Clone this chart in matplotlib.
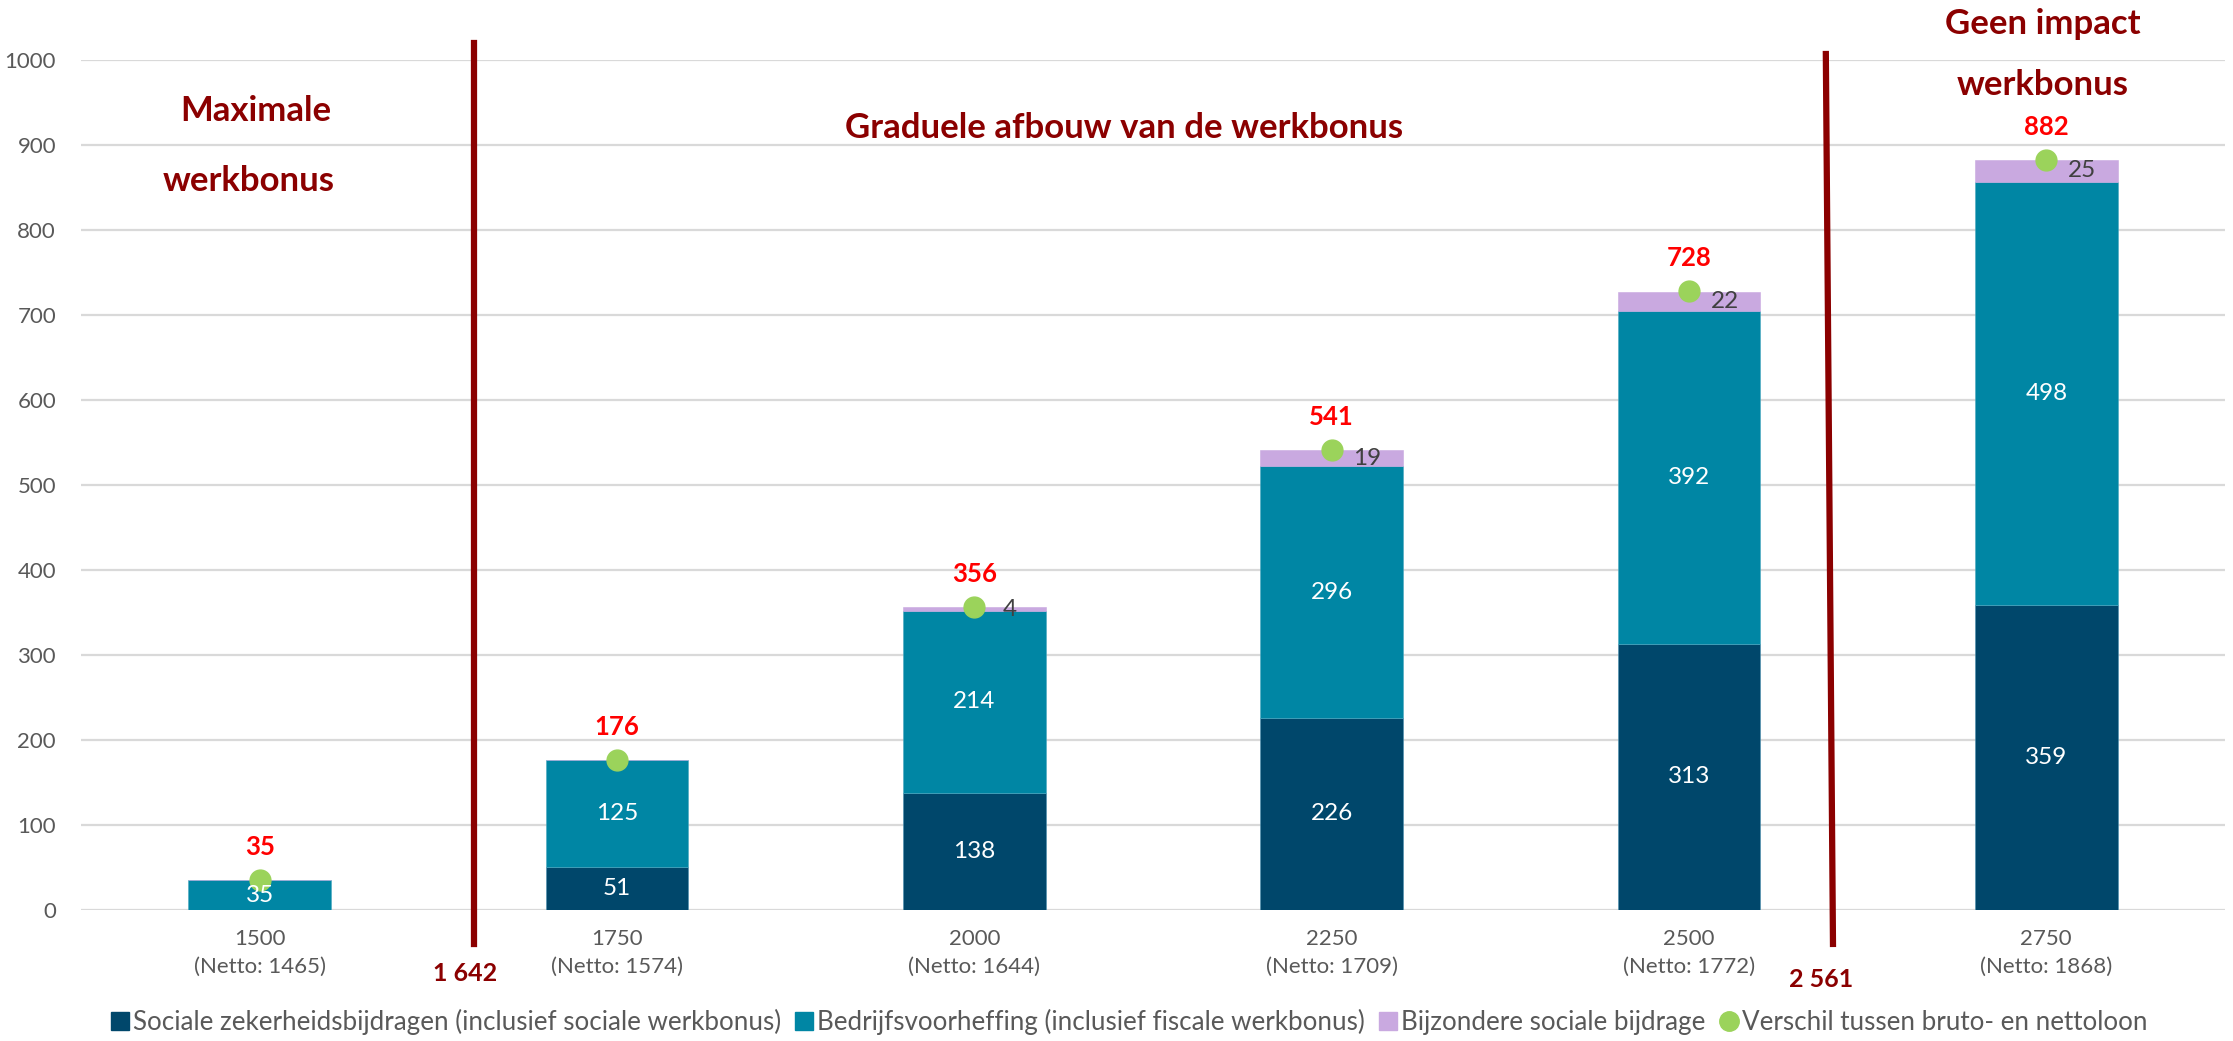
import matplotlib.pyplot as plt
from matplotlib.lines import Line2D

plt.rcParams['font.family'] = ['Lato', 'DejaVu Sans']

# data
bruto = ['1500', '1750', '2000', '2250', '2500', '2750']
netto = [1465, 1574, 1644, 1709, 1772, 1868]
sociale = [0, 51, 138, 226, 313, 359]
voorheffing = [35, 125, 214, 296, 392, 498]
bijzondere = [0, 0, 4, 19, 22, 25]
verschil = [35, 176, 356, 541, 728, 882]

c_soc = '#00476B'
c_bv = '#0086A4'
c_bsb = '#C9A9E0'
c_green = '#9BD35B'
c_dark = '#8B0000'
grey = '#595959'

fig = plt.figure(figsize=(22.33, 10.41), dpi=100)
ax = fig.add_axes([0.0363, 0.1259, 0.9601, 0.8165])

x = list(range(len(bruto)))
w = 0.4
ax.bar(x, sociale, w, color=c_soc, edgecolor='#4A90B0', linewidth=0.4, zorder=3)
ax.bar(x, voorheffing, w, bottom=sociale, color=c_bv, edgecolor='#4AA8C0', linewidth=0.4, zorder=3)
bot2 = [a + b for a, b in zip(sociale, voorheffing)]
ax.bar(x, bijzondere, w, bottom=bot2, color=c_bsb, edgecolor=c_bsb, linewidth=0.4, zorder=3)
ax.plot(x, verschil, 'o', color=c_green, markersize=15, linestyle='none', zorder=5)

# segment labels
for i in x:
    if sociale[i]:
        ax.text(i, sociale[i] / 2, str(sociale[i]), ha='center', va='center', color='white', fontsize=17.5, zorder=6)
    if voorheffing[i]:
        ax.text(i, sociale[i] + voorheffing[i] / 2, str(voorheffing[i]), ha='center', va='center',
                color='white', fontsize=17.5, zorder=6)
    if bijzondere[i]:
        ax.text(i + 0.1, bot2[i] + bijzondere[i] / 2, str(bijzondere[i]), ha='center', va='center',
                color='#404040', fontsize=17.5, zorder=6)
    ax.annotate(str(verschil[i]), (i, verschil[i]), xytext=(0, 24), textcoords='offset points',
                ha='center', va='center', color='red', fontsize=18.5, fontweight='bold', zorder=6)

ax.set_xlim(-0.5, 5.5)
ax.set_ylim(0, 1000)
ax.set_yticks(range(0, 1001, 100))
ax.set_xticks(x)
ax.set_xticklabels([f'{b}\n(Netto: {n})' for b, n in zip(bruto, netto)], fontsize=16, color=grey,
                   linespacing=1.45)
ax.tick_params(axis='y', labelsize=16, labelcolor=grey, length=0, pad=18)
ax.tick_params(axis='x', length=0, pad=14)
ax.grid(axis='y', color='#D9D9D9', linewidth=1.6, zorder=0)
for s in ax.spines.values():
    s.set_visible(False)

# grens-lijnen
ax.plot([0.6, 0.6], [1020, -40], color=c_dark, linewidth=4.5, clip_on=False, zorder=4)
ax.plot([4.383, 4.403], [1007, -40], color=c_dark, linewidth=4.5, clip_on=False, zorder=4)
ax.text(0.576, -75, '1 642', ha='center', va='center', color=c_dark, fontsize=18, fontweight='bold')
ax.text(4.37, -82, '2 561', ha='center', va='center', color=c_dark, fontsize=18, fontweight='bold')

kw = dict(ha='center', va='center', color=c_dark, fontsize=25, fontweight='bold')
ax.text(-0.01, 940, 'Maximale', **kw)
ax.text(-0.03, 858, 'werkbonus', **kw)
ax.text(2.42, 920, 'Graduele afbouw van de werkbonus', **kw)
ax.text(4.99, 1042, 'Geen impact', clip_on=False, **kw)
ax.text(4.99, 970, 'werkbonus', **kw)

handles = [
    Line2D([], [], marker='s', color=c_soc, linestyle='none', markersize=13),
    Line2D([], [], marker='s', color=c_bv, linestyle='none', markersize=13),
    Line2D([], [], marker='s', color=c_bsb, linestyle='none', markersize=13),
    Line2D([], [], marker='o', color=c_green, linestyle='none', markersize=14),
]
labels = ['Sociale zekerheidsbijdragen (inclusief sociale werkbonus)',
          'Bedrijfsvoorheffing (inclusief fiscale werkbonus)',
          'Bijzondere sociale bijdrage',
          'Verschil tussen bruto- en nettoloon']
leg = fig.legend(handles, labels, loc='center', bbox_to_anchor=(0.506, 0.018), ncol=4, frameon=False,
                 fontsize=18.7, handlelength=0.6, handletextpad=0.2, columnspacing=0.6)
for t in leg.get_texts():
    t.set_color(grey)

fig.savefig('out.png', dpi=100)
